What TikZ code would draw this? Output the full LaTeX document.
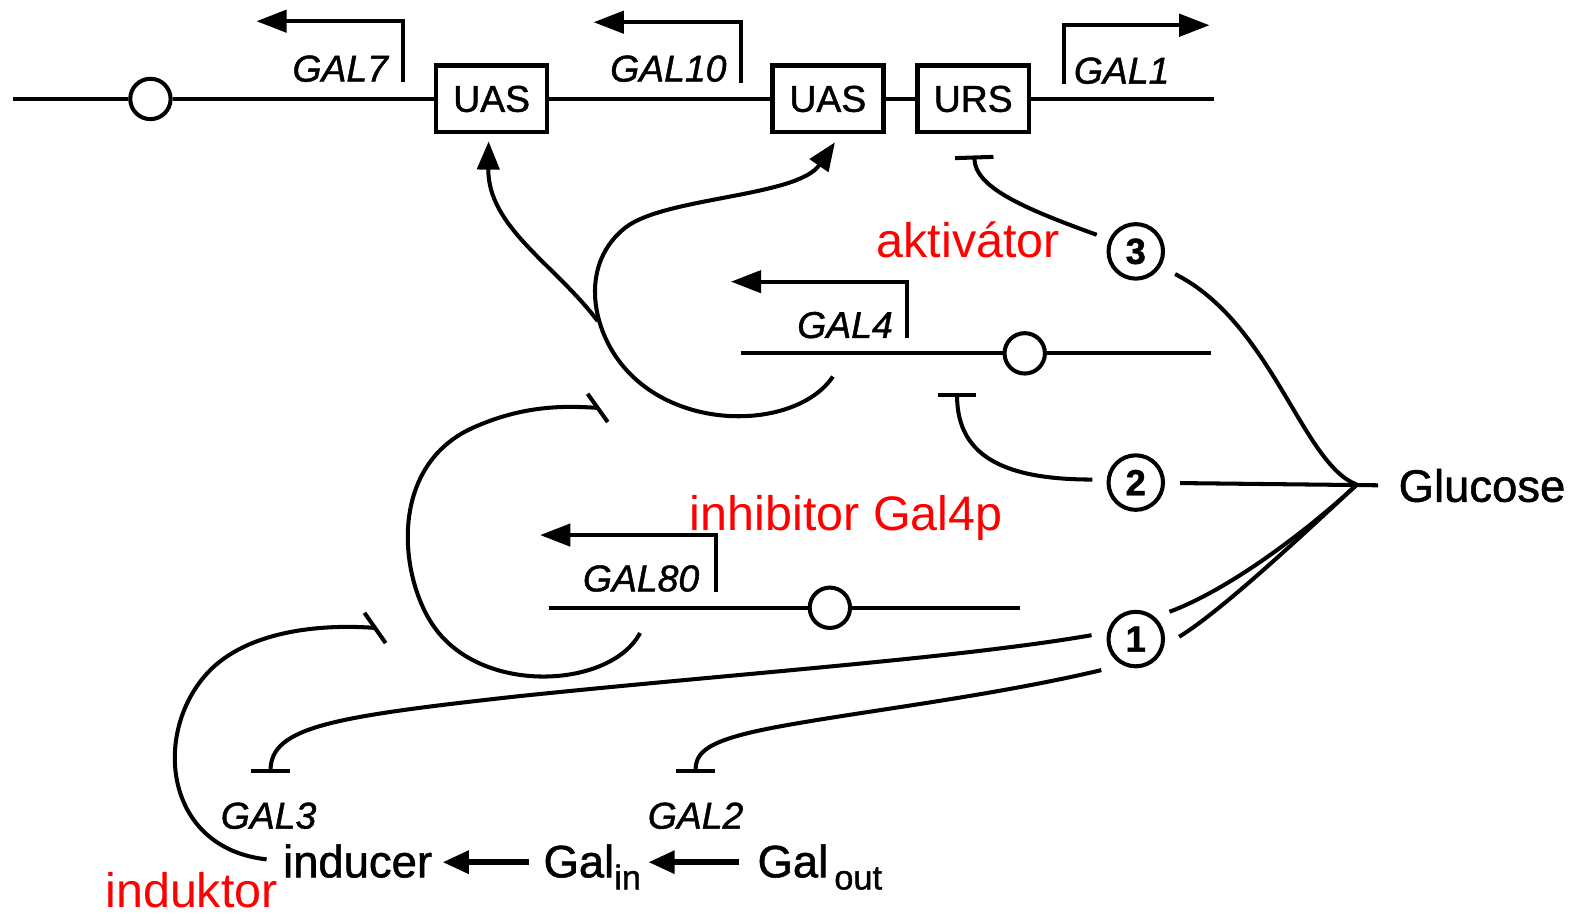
\documentclass[tikz,border=0pt]{standalone}
\usepackage{fontspec}
\setmainfont{Liberation Sans}
\newfontfamily\hv[FakeBold=1.2]{Liberation Sans}
\usetikzlibrary{arrows.meta,calc}
\begin{document}
\begin{tikzpicture}[x=0.5pt,y=-0.5pt,
  ln/.style={line width=2pt},
  prom/.style={line width=2pt, line join=miter, -{Triangle[length=15pt,width=11pt]}},
  act/.style={line width=2pt, -{Triangle[length=14pt,width=11pt]}},
  inh/.style={line width=2pt, -{Bar[width=19pt]}},
  bigarr/.style={line width=2.8pt, -{Triangle[length=13pt,width=11pt]}},
  box/.style={draw, line width=2.2pt, minimum width=55pt, minimum height=33pt, inner sep=0pt, fill=white, font=\hv\fontsize{18.5}{19}\selectfont},
  site/.style={circle, draw, fill=white, line width=2pt, minimum size=20pt, inner sep=0pt},
  num/.style={circle, draw, line width=2pt, minimum size=27pt, inner sep=0pt, font=\hv\bfseries\fontsize{18}{18}\selectfont},
  gene/.style={inner sep=0pt, font=\hv\itshape\fontsize{18.5}{20}\selectfont},
  lbl/.style={inner sep=0pt, font=\hv\fontsize{22.5}{24}\selectfont},
  redlbl/.style={inner sep=0pt, text=red, font=\fontsize{24}{26}\selectfont},
]
\useasboundingbox (0,0) rectangle (1568,910);

% ---------- top row: GAL7 - GAL10 - GAL1 ----------
\node[box] (uas1) at (487,98) {UAS};
\node[box] (uas2) at (820,98) {UAS};
\node[box] (urs)  at (964,98) {URS};
\node[site] (s0) at (149,98) {};
\coordinate (tl) at (13,98);
\coordinate (tr) at (1202,98);
\draw[ln] (tl) -- (s0) -- (uas1) -- (uas2) -- (urs) -- (tr);

\coordinate (p7)  at (399,81);   \coordinate (p7e)  at (254,21);
\coordinate (p10) at (734,82);   \coordinate (p10e) at (588,22);
\coordinate (p1)  at (1054,83);  \coordinate (p1e)  at (1198,25);
\draw[prom] (p7) |- (p7e);
\draw[prom] (p10) |- (p10e);
\draw[prom] (p1) |- (p1e);
\node[gene] (g7)  at (337,68)  {GAL7};
\node[gene] (g10) at (662,68)  {GAL10};
\node[gene] (g1)  at (1111,70) {GAL1};

% ---------- GAL4 ----------
\coordinate (g4l) at (734,350);
\coordinate (g4r) at (1200,350);
\node[site] (s4) at (1015,350) {};
\draw[ln] (g4l) -- (s4) -- (g4r);
\coordinate (p4) at (898,335); \coordinate (p4e) at (724,279);
\draw[prom] (p4) |- (p4e);
\node[gene] (g4) at (837,322) {GAL4};

% ---------- GAL80 ----------
\coordinate (g80l) at (544,602);
\coordinate (g80r) at (1010,602);
\node[site] (s80) at (822,602) {};
\draw[ln] (g80l) -- (s80) -- (g80r);
\coordinate (p80) at (709,586); \coordinate (p80e) at (535,530);
\draw[prom] (p80) |- (p80e);
\node[gene] (g80) at (635,573) {GAL80};

% ---------- numbered sites and glucose ----------
\node[num] (c3) at (1125,249) {3};
\node[num] (c2) at (1125,478) {2};
\node[num] (c1) at (1125,633) {1};
\node[lbl, anchor=base west] (glu) at (1385,497) {Glucose};
\coordinate (gf) at (1344,480);

\draw[ln, shorten <=7.5pt, shorten >=10pt] (c2) -- (glu.west);
\draw[ln] ([shift={(-30:22.5pt)}]c3.center) .. controls (1260,320) and (1290,460) .. (gf);
\draw[ln] ([shift={(39:21.5pt)}]c1.center) .. controls (1215,585) and (1290,530) .. (gf);
\draw[ln] ([shift={(3:21.5pt)}]c1.center) .. controls (1210,605) and (1290,530) .. (gf);

% inhibitions from numbered sites
\coordinate (ursb) at (965,154);
\draw[inh] ([shift={(157:21pt)}]c3.center) .. controls (1010,205) and (966,185) .. (ursb);
\coordinate (g4b) at (948,389);
\draw[inh] ([shift={(176:21.5pt)}]c2.center) .. controls (1000,475) and (948,455) .. (g4b);
\coordinate (g3b) at (268,766);
\draw[inh] ([shift={(175:22pt)}]c1.center) .. controls (950,652) and (720,668) .. (510,690)
   .. controls (330,710) and (268,720) .. (g3b);
\coordinate (g2b) at (689,766);
\draw[inh] ([shift={(222:23pt)}]c1.center) .. controls (980,690) and (850,705) .. (770,720)
   .. controls (700,733) and (689,745) .. (g2b);
\node[gene] (g3) at (266,808) {GAL3};
\node[gene] (g2) at (689,808) {GAL2};

% ---------- Gal4p activator ----------
\coordinate (g4p) at (825,373);
\coordinate (uas2t) at (827,141);
\coordinate (uas1t) at (484,140);
\coordinate (br) at (592,318);
\draw[act] (g4p) .. controls (790,425) and (670,430) .. (615,360)
   .. controls (585,322) and (575,260) .. (620,225)
   .. controls (660,195) and (790,195) .. (uas2t);
\draw[act] (br) .. controls (550,262) and (483,225) .. (uas1t);
\node[redlbl, anchor=base west] (akt) at (868,255) {aktivátor};

% ---------- Gal80p inhibitor ----------
\coordinate (g80p) at (634,627);
\coordinate (c80e) at (592,404);
\draw[ln] (g80p) .. controls (605,682) and (475,690) .. (428,618)
   .. controls (395,568) and (385,460) .. (470,423)
   .. controls (520,401) and (560,402) .. (c80e);
\draw[ln] (582,390) -- (602,418);
\node[redlbl, anchor=base west] (inhl) at (683,525) {inhibitor Gal4p};

% ---------- bottom: galactose ----------
\node[lbl, anchor=base west] (ind) at (280,869) {inducer};
\node[lbl, anchor=base west] (galin) at (538,869) {Gal\raisebox{-6pt}{\fontsize{17}{17}\selectfont in}};
\node[lbl, anchor=base west] (galout) at (750,869) {Gal\hspace{3pt}\raisebox{-6pt}{\fontsize{17}{17}\selectfont out}};
\coordinate (ay) at (0,854);
\draw[bigarr, shorten <=7pt, shorten >=5pt] (galin.west |- ay) -- (ind.east |- ay);
\draw[bigarr, shorten <=9pt, shorten >=3.5pt] (galout.west |- ay) -- (galin.east |- ay);

% inducer inhibits Gal80p
\coordinate (inde) at (372,622);
\draw[ln, shorten <=8pt] (ind.west) .. controls (160,840) and (150,720) .. (210,662)
   .. controls (250,624) and (320,618) .. (inde);
\draw[ln] (361,607) -- (382,637);
\node[redlbl, anchor=base west] (indk) at (104,899) {induktor};
\end{tikzpicture}
\end{document}
